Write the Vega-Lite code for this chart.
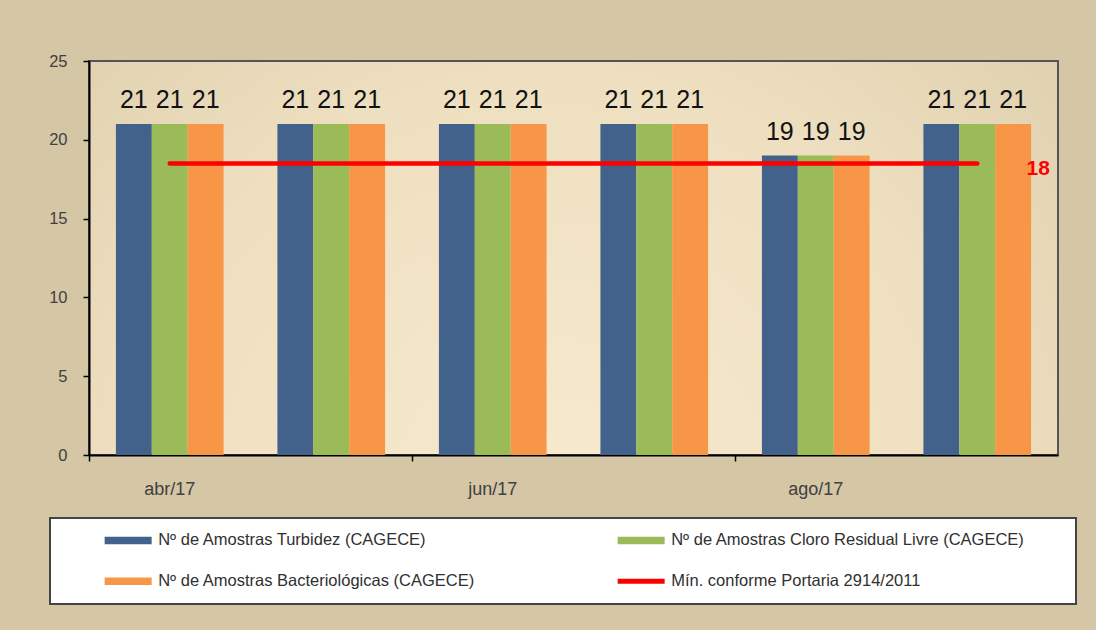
{
  "$schema": "https://vega.github.io/schema/vega-lite/v6.json",
  "width": 969,
  "height": 394,
  "autosize": {"type": "none"},
  "padding": {"left": 89, "top": 61, "right": 38, "bottom": 175},
  "background": "#D5C6A6",
  "config": {
    "font": "Liberation Sans",
    "view": {
      "fill": {"gradient": "radial", "x1": 0.48, "y1": 0.75, "r1": 0, "x2": 0.48, "y2": 0.75, "r2": 0.8,
        "stops": [{"offset": 0, "color": "#F8EACF"}, {"offset": 0.55, "color": "#EEDFC0"}, {"offset": 1, "color": "#D9CAA9"}]},
      "stroke": "#555555",
      "strokeWidth": 2
    }
  },
  "datasets": {
    "amostras": [
      {"mes": "abr/17", "serie": "Nº de Amostras Turbidez (CAGECE)", "valor": 21},
      {"mes": "abr/17", "serie": "Nº de Amostras Cloro Residual Livre (CAGECE)", "valor": 21},
      {"mes": "abr/17", "serie": "Nº de Amostras Bacteriológicas (CAGECE)", "valor": 21},
      {"mes": "mai/17", "serie": "Nº de Amostras Turbidez (CAGECE)", "valor": 21},
      {"mes": "mai/17", "serie": "Nº de Amostras Cloro Residual Livre (CAGECE)", "valor": 21},
      {"mes": "mai/17", "serie": "Nº de Amostras Bacteriológicas (CAGECE)", "valor": 21},
      {"mes": "jun/17", "serie": "Nº de Amostras Turbidez (CAGECE)", "valor": 21},
      {"mes": "jun/17", "serie": "Nº de Amostras Cloro Residual Livre (CAGECE)", "valor": 21},
      {"mes": "jun/17", "serie": "Nº de Amostras Bacteriológicas (CAGECE)", "valor": 21},
      {"mes": "jul/17", "serie": "Nº de Amostras Turbidez (CAGECE)", "valor": 21},
      {"mes": "jul/17", "serie": "Nº de Amostras Cloro Residual Livre (CAGECE)", "valor": 21},
      {"mes": "jul/17", "serie": "Nº de Amostras Bacteriológicas (CAGECE)", "valor": 21},
      {"mes": "ago/17", "serie": "Nº de Amostras Turbidez (CAGECE)", "valor": 19},
      {"mes": "ago/17", "serie": "Nº de Amostras Cloro Residual Livre (CAGECE)", "valor": 19},
      {"mes": "ago/17", "serie": "Nº de Amostras Bacteriológicas (CAGECE)", "valor": 19},
      {"mes": "set/17", "serie": "Nº de Amostras Turbidez (CAGECE)", "valor": 21},
      {"mes": "set/17", "serie": "Nº de Amostras Cloro Residual Livre (CAGECE)", "valor": 21},
      {"mes": "set/17", "serie": "Nº de Amostras Bacteriológicas (CAGECE)", "valor": 21}
    ],
    "minimo": [
      {"mes": "abr/17", "serie": "Mín. conforme Portaria 2914/2011", "valor": 18.5, "rotulo": "18"},
      {"mes": "mai/17", "serie": "Mín. conforme Portaria 2914/2011", "valor": 18.5, "rotulo": "18"},
      {"mes": "jun/17", "serie": "Mín. conforme Portaria 2914/2011", "valor": 18.5, "rotulo": "18"},
      {"mes": "jul/17", "serie": "Mín. conforme Portaria 2914/2011", "valor": 18.5, "rotulo": "18"},
      {"mes": "ago/17", "serie": "Mín. conforme Portaria 2914/2011", "valor": 18.5, "rotulo": "18"},
      {"mes": "set/17", "serie": "Mín. conforme Portaria 2914/2011", "valor": 18.5, "rotulo": "18"}
    ]
  },
  "layer": [
    {
      "data": {"name": "amostras"},
      "mark": {"type": "bar"},
      "encoding": {
        "x": {
          "field": "mes", "type": "nominal", "sort": null,
          "scale": {"paddingInner": 0, "paddingOuter": 0},
          "axis": {
            "title": null, "values": ["abr/17", "jun/17", "ago/17"], "bandPosition": 0,
            "labelAngle": 0, "tickSize": 6, "labelPadding": 19, "labelFontSize": 18, "labelColor": "#404040",
            "domainColor": "#000000", "domainWidth": 2, "tickColor": "#000000", "tickWidth": 1.5, "grid": false
          }
        },
        "xOffset": {
          "field": "serie", "type": "nominal", "sort": null,
          "scale": {"paddingInner": 0, "paddingOuter": 0.75}
        },
        "y": {
          "field": "valor", "type": "quantitative",
          "scale": {"domain": [0, 25], "nice": false},
          "axis": {
            "title": null, "values": [0, 5, 10, 15, 20, 25], "tickSize": 6, "labelPadding": 16, "labelFontSize": 16.5,
            "labelColor": "#404040", "domainColor": "#000000", "domainWidth": 2, "tickColor": "#000000", "tickWidth": 1.5, "grid": false
          }
        },
        "color": {
          "field": "serie", "type": "nominal",
          "scale": {
            "domain": ["Nº de Amostras Turbidez (CAGECE)", "Nº de Amostras Cloro Residual Livre (CAGECE)", "Nº de Amostras Bacteriológicas (CAGECE)", "Mín. conforme Portaria 2914/2011"],
            "range": ["#43628B", "#9BBB59", "#F79646", "#FF0000"]
          },
          "legend": {
            "title": " ", "titleOrient": "right", "titlePadding": 37, "titleFontSize": 10,
            "orient": "none", "legendX": -39, "legendY": 457, "columns": 2, "direction": "horizontal",
            "padding": 14, "fillColor": "#FFFFFF", "strokeColor": "#444444",
            "symbolSize": 100, "symbolOffset": 55.9, "labelOffset": 21.8, "columnPadding": 101, "rowPadding": 24,
            "labelFontSize": 16.5, "labelColor": "#303030", "labelLimit": 600,
            "encode": {
              "legend": {"update": {"strokeWidth": {"value": 2}}},
              "symbols": {
                "update": {
                  "shape": {"signal": "datum.value == 'Mín. conforme Portaria 2914/2011' ? 'M-4.7,-0.5H4.7V0.5H-4.7Z' : 'M-4.7,-0.75H4.7V0.75H-4.7Z'"},
                  "fill": {"scale": "color", "field": "value"},
                  "stroke": {"value": "transparent"},
                  "strokeWidth": {"value": 0},
                  "opacity": {"value": 1}
                }
              }
            }
          }
        }
      }
    },
    {
      "data": {"name": "amostras"},
      "mark": {"type": "text", "baseline": "alphabetic", "dy": -16, "fontSize": 25, "color": "#111111"},
      "encoding": {
        "x": {"field": "mes", "type": "nominal", "sort": null},
        "xOffset": {"field": "serie", "type": "nominal", "sort": null},
        "y": {"field": "valor", "type": "quantitative"},
        "text": {"field": "valor", "type": "quantitative"}
      }
    },
    {
      "data": {"name": "minimo"},
      "mark": {"type": "line", "strokeWidth": 4.5, "strokeCap": "round"},
      "encoding": {
        "x": {"field": "mes", "type": "nominal", "sort": null},
        "y": {"field": "valor", "type": "quantitative"},
        "color": {"field": "serie", "type": "nominal"}
      }
    },
    {
      "data": {"name": "minimo"},
      "transform": [{"filter": "datum.mes == 'set/17'"}],
      "mark": {"type": "text", "color": "#FF0000", "fontWeight": "bold", "fontSize": 21, "dx": 61, "dy": 12, "baseline": "alphabetic"},
      "encoding": {
        "x": {"field": "mes", "type": "nominal", "sort": null},
        "y": {"field": "valor", "type": "quantitative"},
        "text": {"field": "rotulo", "type": "nominal"}
      }
    }
  ]
}
